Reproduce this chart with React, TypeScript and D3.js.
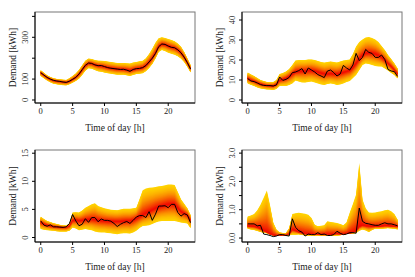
import * as d3 from "d3";

// half-hourly time grid [h]
const hours = [0, 0.5, 1, 1.5, 2, 2.5, 3, 3.5, 4, 4.5, 5, 5.5, 6, 6.5, 7, 7.5, 8, 8.5, 9, 9.5, 10, 10.5, 11, 11.5,
  12, 12.5, 13, 13.5, 14, 14.5, 15, 15.5, 16, 16.5, 17, 17.5, 18, 18.5, 19, 19.5, 20, 20.5, 21, 21.5, 22, 22.5, 23, 23.5];

// panel 1 (aggregate)
const obs1 = [131, 119, 108, 100, 94, 91, 89, 86, 84, 90, 99, 108, 124, 145, 166, 177, 175, 168, 164, 165, 160, 155, 152, 150,
  148, 146, 147, 143, 137, 146, 150, 151, 155, 165, 182, 200, 223, 255, 268, 266, 258, 252, 250, 240, 226, 205, 179, 148];
const mid1 = [129, 118, 107, 99, 93, 90, 88, 86, 85, 89, 98, 108, 123, 144, 164, 175, 174, 168, 164, 162, 159, 155, 152, 150,
  148, 147, 146, 144, 141, 145, 149, 151, 155, 165, 181, 200, 225, 255, 266, 264, 258, 253, 249, 240, 225, 204, 178, 150];
const hi1 = [142, 130, 118, 110, 104, 101, 99, 97, 96, 104, 115, 127, 144, 166, 188, 198, 196, 191, 188, 188, 187, 184, 182, 179,
  177, 177, 177, 176, 175, 179, 182, 185, 188, 200, 220, 245, 274, 295, 300, 297, 292, 287, 281, 270, 255, 230, 199, 167];
const lo1 = [115, 104, 93, 85, 78, 75, 73, 71, 70, 75, 83, 91, 102, 120, 140, 152, 150, 143, 137, 135, 131, 128, 126, 123,
  121, 121, 121, 118, 115, 120, 124, 126, 128, 138, 153, 172, 199, 230, 239, 234, 226, 221, 217, 209, 198, 182, 159, 132];

// panel 2
const obs2 = [10.7, 9.5, 9.2, 8.5, 7.7, 7.3, 7.2, 7.2, 7.0, 7.5, 11.5, 9.8, 10.3, 11.3, 13.7, 14.0, 14.7, 15.7, 13.0, 16.0, 15.0, 14.0, 12.7, 12.0,
  11.2, 14.5, 15.0, 13.7, 12.0, 13.0, 17.3, 16.0, 15.0, 17.5, 23.3, 19.7, 21.3, 25.3, 23.8, 23.3, 21.3, 21.3, 22.5, 20.3, 15.3, 14.5, 14.2, 11.8];
const mid2 = [10.8, 10.0, 9.3, 8.6, 8.0, 7.5, 7.2, 7.0, 7.0, 7.8, 9.8, 10.3, 10.8, 11.8, 13.0, 14.0, 14.3, 14.5, 14.5, 14.7, 14.7, 14.4, 14.0, 13.5,
  13.0, 13.0, 13.2, 13.0, 13.0, 13.3, 13.8, 14.3, 14.8, 16.2, 18.3, 20.5, 22.3, 23.3, 23.5, 23.3, 23.0, 22.3, 21.3, 20.0, 18.3, 16.8, 15.0, 13.0];
const hi2 = [13.7, 12.8, 12.0, 11.0, 10.0, 9.5, 9.0, 9.0, 9.0, 10.0, 13.0, 13.5, 14.2, 15.5, 17.5, 19.8, 20.0, 20.0, 20.0, 20.3, 20.3, 20.0, 19.5, 19.0,
  18.7, 19.0, 19.3, 19.0, 18.8, 19.3, 19.8, 20.0, 20.3, 23.0, 26.7, 29.0, 30.3, 31.3, 31.5, 31.0, 30.3, 29.0, 27.0, 25.0, 22.5, 20.5, 18.3, 15.8];
const lo2 = [8.3, 7.6, 7.0, 6.3, 5.8, 5.5, 5.3, 5.2, 5.0, 5.5, 7.0, 7.0, 7.0, 7.5, 8.3, 9.7, 9.2, 8.8, 8.7, 9.0, 9.2, 8.8, 8.3, 7.8,
  7.5, 8.0, 8.3, 8.0, 7.5, 7.8, 8.3, 9.0, 9.5, 11.0, 12.5, 15.0, 17.5, 18.3, 18.0, 17.5, 17.0, 16.8, 16.7, 15.8, 14.7, 13.5, 12.5, 10.8];

// panel 3
const obs3 = [2.95, 2.2, 2.0, 2.25, 1.9, 1.9, 1.85, 1.8, 1.9, 2.5, 4.1, 2.95, 2.1, 2.35, 3.35, 2.7, 3.55, 3.55, 2.8, 3.3, 3.05, 3.05, 2.9, 2.5,
  1.95, 2.35, 2.65, 2.85, 2.5, 3.05, 3.65, 3.9, 3.9, 3.55, 4.6, 3.05, 4.15, 5.6, 5.6, 5.65, 5.3, 5.9, 5.9, 4.45, 3.8, 4.25, 4.0, 2.65];
const mid3 = [2.65, 2.4, 2.2, 2.05, 1.95, 1.9, 1.85, 1.8, 1.8, 2.1, 3.0, 3.1, 2.95, 3.05, 3.15, 3.2, 3.25, 3.2, 3.1, 3.0, 2.95, 2.9, 2.9, 2.85,
  2.85, 2.85, 2.9, 2.95, 2.95, 3.1, 3.4, 3.7, 4.0, 4.3, 4.6, 4.9, 5.2, 5.4, 5.6, 5.75, 5.9, 5.95, 5.9, 5.3, 4.6, 4.3, 4.0, 3.1];
const hi3 = [3.7, 3.3, 2.95, 2.75, 2.55, 2.4, 2.25, 2.15, 2.1, 2.5, 4.45, 4.5, 4.45, 4.8, 5.3, 5.6, 5.9, 6.1, 5.6, 5.4, 5.2, 5.05, 4.95, 4.9,
  4.85, 5.0, 5.1, 5.1, 5.1, 5.2, 5.3, 6.8, 8.4, 8.7, 8.85, 8.9, 9.0, 9.1, 9.15, 9.3, 9.45, 9.45, 9.35, 8.1, 6.8, 6.0, 5.2, 4.0];
const lo3 = [1.5, 1.4, 1.3, 1.25, 1.2, 1.1, 1.05, 1.05, 1.05, 1.2, 1.8, 1.6, 1.3, 1.4, 1.5, 1.4, 1.3, 1.05, 0.95, 0.9, 0.9, 0.8, 0.75, 0.65,
  0.6, 0.7, 0.75, 0.75, 0.7, 0.9, 1.2, 1.7, 2.05, 2.1, 2.2, 2.4, 2.65, 2.85, 2.95, 2.95, 2.95, 2.95, 2.95, 2.8, 2.65, 2.6, 2.5, 1.65];

// panel 4 (single household)
const obs4 = [0.5, 0.5, 0.5, 0.43, 0.45, 0.14, 0.12, 0.09, 0.05, 0.07, 0.12, 0.12, 0.09, 0.07, 0.68, 0.38, 0.26, 0.21, 0.07, 0.14, 0.12, 0.12, 0.19, 0.12,
  0.14, 0.09, 0.09, 0.12, 0.24, 0.17, 0.12, 0.14, 0.19, 0.19, 0.17, 1.06, 0.59, 0.52, 0.5, 0.47, 0.45, 0.45, 0.5, 0.54, 0.5, 0.5, 0.47, 0.43];
const mid4 = [0.42, 0.42, 0.41, 0.38, 0.33, 0.26, 0.2, 0.14, 0.1, 0.09, 0.09, 0.09, 0.1, 0.14, 0.3, 0.26, 0.21, 0.18, 0.15, 0.14, 0.14, 0.13, 0.13, 0.13,
  0.13, 0.13, 0.13, 0.14, 0.15, 0.14, 0.14, 0.15, 0.17, 0.2, 0.24, 0.4, 0.45, 0.43, 0.42, 0.41, 0.41, 0.41, 0.42, 0.43, 0.43, 0.42, 0.42, 0.41];
const hi4 = [0.76, 0.8, 0.85, 0.98, 1.18, 1.42, 1.68, 1.15, 0.55, 0.3, 0.2, 0.18, 0.18, 0.35, 0.85, 0.88, 0.89, 0.88, 0.86, 0.82, 0.71, 0.47, 0.42, 0.43,
  0.45, 0.59, 0.57, 0.55, 0.53, 0.5, 0.45, 0.55, 0.89, 1.2, 1.54, 2.65, 1.36, 1.05, 0.9, 0.89, 0.9, 0.93, 0.95, 0.98, 1.0, 0.95, 0.85, 0.65];
const lo4 = [0.33, 0.3, 0.28, 0.25, 0.21, 0.19, 0.17, 0.12, 0.09, 0.07, 0.07, 0.08, 0.09, 0.1, 0.12, 0.12, 0.13, 0.11, 0.09, 0.09, 0.09, 0.09, 0.09, 0.08,
  0.07, 0.09, 0.08, 0.09, 0.09, 0.1, 0.12, 0.14, 0.14, 0.16, 0.18, 0.26, 0.3, 0.27, 0.21, 0.28, 0.33, 0.33, 0.33, 0.34, 0.35, 0.34, 0.33, 0.3];

const xTicks = [0, 5, 10, 15, 20];
const yTicks1 = [0, 100, 200, 300, 400];
const yLabels1 = ["0", "100", "", "300", ""];
const yTicks2 = [0, 10, 20, 30, 40];
const yLabels2 = ["0", "10", "20", "30", "40"];
const yTicks3 = [0, 5, 10, 15];
const yLabels3 = ["0", "5", "10", "15"];
const yTicks4 = [0, 0.5, 1, 1.5, 2, 2.5, 3];
const yLabels4 = ["0.0", "", "1.0", "", "2.0", "", "3.0"];

const FONT = "Liberation Serif, Times New Roman, serif";
const NB = 30;

// standard normal cdf, used only to shade the fan
function phi(z: number) {
  const t = 1 / (1 + 0.2316419 * Math.abs(z));
  const d = 0.3989423 * Math.exp((-z * z) / 2);
  const p = d * t * (0.3193815 + t * (-0.3565638 + t * (1.781478 + t * (-1.821256 + t * 1.330274))));
  return z > 0 ? 1 - p : p;
}
const fanColor = d3.interpolateRgb("#ffd400", "#f00000");

type PanelProps = {
  obs: number[]; mid: number[]; lo: number[]; hi: number[];
  yDomain: [number, number]; yTicks: number[]; yLabels: string[];
  left: number; right: number; top: number; bottom: number; id: string;
};

function Panel(p: PanelProps) {
  const x = d3.scaleLinear().domain([-0.9, 24.2]).range([p.left, p.right]);
  const y = d3.scaleLinear().domain(p.yDomain).range([p.bottom, p.top]);
  const levels = d3.range(NB).map(k => (NB - k) / NB);
  const bands = levels.map(t => {
    const area = d3.area<number>()
      .x((_, i) => x(hours[i]))
      .y0((_, i) => y(p.mid[i] - t * (p.mid[i] - p.lo[i])))
      .y1((_, i) => y(p.mid[i] + t * (p.hi[i] - p.mid[i])));
    const c = Math.max(0, Math.min(1, (phi(-1.645 * t) - 0.05) / 0.45));
    return { d: area(hours) as string, color: fanColor(c) };
  });
  const line = d3.line<number>().x((_, i) => x(hours[i])).y(d => y(d));
  const cy = (p.top + p.bottom) / 2;
  return (
    <g>
      <defs>
        <clipPath id={p.id}>
          <rect x={p.left} y={p.top} width={p.right - p.left} height={p.bottom - p.top} />
        </clipPath>
      </defs>
      <g clipPath={`url(#${p.id})`}>
        {bands.map((b, i) => <path key={i} d={b.d} fill={b.color} stroke="none" />)}
        <path d={line(p.obs) as string} fill="none" stroke="#000" strokeWidth={1} />
      </g>
      <rect x={p.left} y={p.top} width={p.right - p.left} height={p.bottom - p.top} fill="none" stroke="#777" strokeWidth={1} />
      <line x1={p.left} x2={p.left} y1={p.top} y2={p.bottom} stroke="#000" />
      <line x1={p.left} x2={p.right} y1={p.bottom} y2={p.bottom} stroke="#000" />
      {xTicks.map(t => (
        <g key={t}>
          <line x1={x(t)} x2={x(t)} y1={p.bottom} y2={p.bottom + 3} stroke="#000" />
          <text x={x(t)} y={p.bottom + 10.5} textAnchor="middle" fontSize={8.5} fontFamily={FONT} fill="#222">{t}</text>
        </g>
      ))}
      {p.yTicks.map((t, i) => (
        <g key={t}>
          <line x1={p.left - 3} x2={p.left} y1={y(t)} y2={y(t)} stroke="#000" />
          <text transform={`translate(${p.left - 7},${y(t)}) rotate(-90)`} textAnchor="middle" fontSize={8.5} fontFamily={FONT} fill="#222">{p.yLabels[i]}</text>
        </g>
      ))}
      <text x={(p.left + p.right) / 2} y={p.bottom + 27.5} textAnchor="middle" fontSize={9.5} fontFamily={FONT} fill="#222">Time of day [h]</text>
      <text transform={`translate(${p.left - 19},${cy}) rotate(-90)`} textAnchor="middle" fontSize={9.5} fontFamily={FONT} fill="#222">Demand [kWh]</text>
    </g>
  );
}

export default function App() {
  return (
    <svg width={415} height={277} style={{ position: "absolute", left: 0, top: 0, background: "#fff" }}>
      <Panel id="c1" obs={obs1} mid={mid1} lo={lo1} hi={hi1} yDomain={[-14.4, 421]} yTicks={yTicks1} yLabels={yLabels1}
        left={35} right={195} top={12} bottom={103} />
      <Panel id="c2" obs={obs2} mid={mid2} lo={lo2} hi={hi2} yDomain={[-1.5, 44]} yTicks={yTicks2} yLabels={yLabels2}
        left={242} right={402} top={12} bottom={103} />
      <Panel id="c3" obs={obs3} mid={mid3} lo={lo3} hi={hi3} yDomain={[-0.8, 15.57]} yTicks={yTicks3} yLabels={yLabels3}
        left={35} right={195} top={150} bottom={242} />
      <Panel id="c4" obs={obs4} mid={mid4} lo={lo4} hi={hi4} yDomain={[-0.14, 3.11]} yTicks={yTicks4} yLabels={yLabels4}
        left={242} right={402} top={150} bottom={242} />
    </svg>
  );
}
